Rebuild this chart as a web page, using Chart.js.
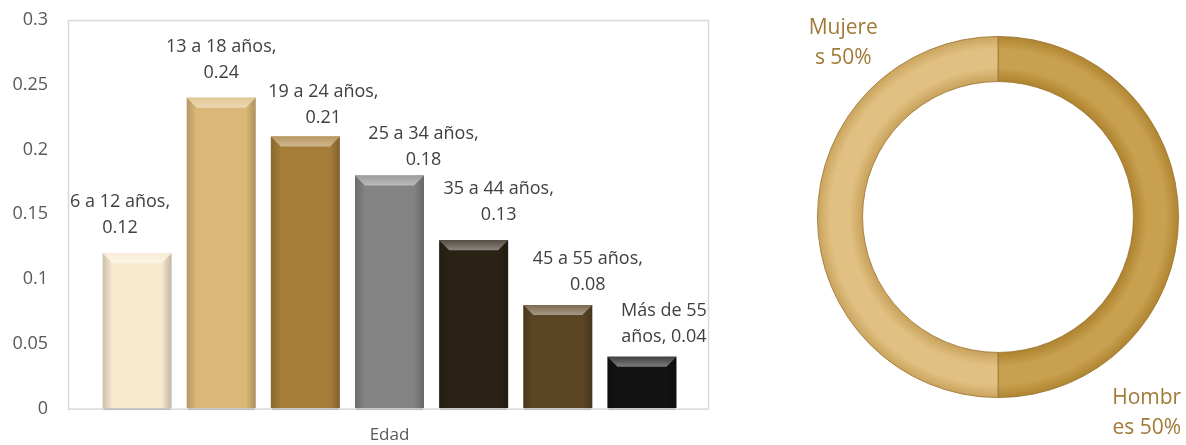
<!DOCTYPE html>
<html>
<head>
<meta charset="utf-8">
<script src="https://cdn.jsdelivr.net/npm/chart.js@4"></script>
<style>
    body { margin:0; background:#ffffff; }
    #wrapBar { position:absolute; left:0; top:0; width:750px; height:445px; }
    #wrapDona { position:absolute; left:800px; top:0; width:386px; height:445px; }
</style>
</head>
<body>
<div id="wrapBar"><canvas id="barChart"></canvas></div>
<div id="wrapDona"><canvas id="donaChart"></canvas></div>
<script>

const edades = ['6 a 12 años', '13 a 18 años', '19 a 24 años', '25 a 34 años',
    '35 a 44 años', '45 a 55 años', 'Más de 55 años']
const porcentajes = [0.12, 0.24, 0.21, 0.18, 0.13, 0.08, 0.04]
const etiquetasBarras = [
    ['6 a 12 años,', '0.12'],
    ['13 a 18 años,', '0.24'],
    ['19 a 24 años,', '0.21'],
    ['25 a 34 años,', '0.18'],
    ['35 a 44 años,', '0.13'],
    ['45 a 55 años,', '0.08'],
    ['Más de 55', 'años, 0.04']
]
const coloresBarras = ['#f8e9cf', '#dbb878', '#a67d38', '#838383', '#2a2215', '#5b4524', '#121212']
// nudges of the labels, as in the original (px)
const ajusteX = [-17, 0, 18, 34, 25, 30, 22]
const ajusteY = [0, 0, 6, 9, 0, 5, 5]

const sexos = ['Hombres', 'Mujeres']
const partes = [50, 50]
const etiquetasDona = [['Hombr', 'es 50%'], ['Mujere', 's 50%']]

const fuente = '"Open Sans", sans-serif'

function mezclar(hex, otro, t) {
    const a = parseInt(hex.slice(1), 16)
    const b = parseInt(otro.slice(1), 16)
    const c = [16, 8, 0].map(s => {
        const x = (a >> s) & 255
        const y = (b >> s) & 255
        return Math.round(x + (y - x) * t)
    })
    return `rgb(${c[0]},${c[1]},${c[2]})`
}

// bevel on bars, border of the plot area and the labels above the bars
const barExtras = {
    id:'barExtras',
    beforeDatasetsDraw(chart) {
        const ctx = chart.ctx
        const a = chart.chartArea
        ctx.save()
        ctx.strokeStyle = '#d9d9d9'
        ctx.lineWidth = 1.5
        ctx.strokeRect(a.left - 26.5, a.top + 0.5, a.right - a.left + 51, a.bottom - a.top)
        ctx.restore()
    },
    afterDatasetsDraw(chart) {
        const ctx = chart.ctx
        const a = chart.chartArea
        const bordeIzq = a.left - 26
        const bordeDer = a.right + 25
        const meta = chart.getDatasetMeta(0)
        meta.data.forEach((bar, i) => {
            const w = bar.width
            const l = bar.x - w / 2
            const r = bar.x + w / 2
            const t = bar.y
            const b = bar.base
            const d = 10
            const base = coloresBarras[i]
            ctx.save()
            // side shading
            let g = ctx.createLinearGradient(l, 0, l + d, 0)
            g.addColorStop(0, 'rgba(0,0,0,0.18)')
            g.addColorStop(1, 'rgba(0,0,0,0)')
            ctx.fillStyle = g
            ctx.fillRect(l, t, d, b - t)
            g = ctx.createLinearGradient(r, 0, r - d, 0)
            g.addColorStop(0, 'rgba(0,0,0,0.22)')
            g.addColorStop(1, 'rgba(0,0,0,0)')
            ctx.fillStyle = g
            ctx.fillRect(r - d, t, d, b - t)
            // top bevel
            ctx.beginPath()
            ctx.moveTo(l, t)
            ctx.lineTo(r, t)
            ctx.lineTo(r - d, t + d)
            ctx.lineTo(l + d, t + d)
            ctx.closePath()
            g = ctx.createLinearGradient(0, t, 0, t + d)
            g.addColorStop(0, mezclar(base, '#ffffff', 0.2))
            g.addColorStop(1, mezclar(base, '#ffffff', 0.45))
            ctx.fillStyle = g
            ctx.fill()
            // small shadow at the foot
            ctx.fillStyle = 'rgba(0,0,0,0.15)'
            ctx.fillRect(l + 1, b, w - 2, 2)

            // label
            ctx.font = `18px ${fuente}`
            ctx.fillStyle = '#404040'
            ctx.textAlign = 'center'
            ctx.textBaseline = 'middle'
            const lineas = etiquetasBarras[i]
            const ancho = Math.max(...lineas.map(s => ctx.measureText(s).width))
            let cx = bar.x + ajusteX[i]
            cx = Math.min(cx, bordeDer - ancho / 2)
            cx = Math.max(cx, bordeIzq + ancho / 2)
            const cy = t + ajusteY[i]
            ctx.fillText(lineas[0], cx, cy - 51)
            ctx.fillText(lineas[1], cx, cy - 25)
            ctx.restore()
        })
    }
}

new Chart(document.getElementById('barChart'), {
    type:'bar',
    data:{
        labels:edades,
        datasets:[{
            data:porcentajes,
            backgroundColor:coloresBarras,
            borderWidth:0,
            categoryPercentage:1,
            barPercentage:0.82
        }]
    },
    options:{
        responsive:true,
        maintainAspectRatio:false,
        animation:false,
        layout:{
            padding:{ top:20, right:66, left:0, bottom:0 }
        },
        plugins:{
            legend:{ display:false },
            tooltip:{ enabled:false }
        },
        scales:{
            x:{
                grid:{ display:false },
                border:{ display:false },
                ticks:{ display:false },
                title:{
                    display:true,
                    text:'Edad',
                    color:'#595959',
                    font:{ family:fuente, size:17 },
                    padding:{ top:8, bottom:0 }
                }
            },
            y:{
                min:0,
                max:0.3,
                afterFit(s) { s.width = 95 },
                grid:{
                    display:true,
                    drawOnChartArea:false,
                    drawTicks:true,
                    tickLength:47,
                    color:'rgba(0,0,0,0)'
                },
                border:{ display:false },
                ticks:{
                    stepSize:0.05,
                    padding:0,
                    color:'#595959',
                    font:{ family:fuente, size:18 },
                    callback:v => String(Number(v.toFixed(2)))
                }
            }
        }
    },
    plugins:[barExtras]
})

const coloresDona = [['#ae842f', '#c9a04f'], ['#c9a35c', '#e1c183']]

function relleno(context) {
    const chart = context.chart
    const a = chart.chartArea
    const par = coloresDona[context.dataIndex]
    if(!a) {
        return par[1]
    }
    const cx = (a.left + a.right) / 2
    const cy = (a.top + a.bottom) / 2
    const rOut = Math.min(a.right - a.left, a.bottom - a.top) / 2
    const rIn = rOut * 0.75
    const g = chart.ctx.createRadialGradient(cx, cy, rIn, cx, cy, rOut)
    g.addColorStop(0, par[0])
    g.addColorStop(0.3, par[1])
    g.addColorStop(0.7, par[1])
    g.addColorStop(1, par[0])
    return g
}

const donaEtiquetas = {
    id:'donaEtiquetas',
    afterDatasetsDraw(chart) {
        const ctx = chart.ctx
        const meta = chart.getDatasetMeta(0)
        ctx.save()
        ctx.font = `21px ${fuente}`
        ctx.fillStyle = '#a07a36'
        ctx.textAlign = 'center'
        ctx.textBaseline = 'middle'
        meta.data.forEach((arc, i) => {
            const lineas = etiquetasDona[i]
            const medio = (arc.startAngle + arc.endAngle) / 2
            const r = arc.outerRadius
            // labels sit off the ring, at the corners of each half
            const x = arc.x - 3 + Math.cos(medio) * r * 0.84
            const y = arc.y + 11 + Math.cos(medio) * r * 1.025
            ctx.fillText(lineas[0], x, y - 15)
            ctx.fillText(lineas[1], x, y + 15)
        })
        ctx.restore()
    }
}

new Chart(document.getElementById('donaChart'), {
    type:'doughnut',
    data:{
        labels:sexos,
        datasets:[{
            data:partes,
            backgroundColor:relleno,
            borderColor:'#9a7434',
            borderWidth:0.8
        }]
    },
    options:{
        responsive:true,
        maintainAspectRatio:false,
        animation:false,
        cutout:'75%',
        layout:{
            padding:{ top:36, bottom:47, left:17, right:7 }
        },
        plugins:{
            legend:{ display:false },
            tooltip:{ enabled:false }
        }
    },
    plugins:[donaEtiquetas]
})

</script>
</body>
</html>
